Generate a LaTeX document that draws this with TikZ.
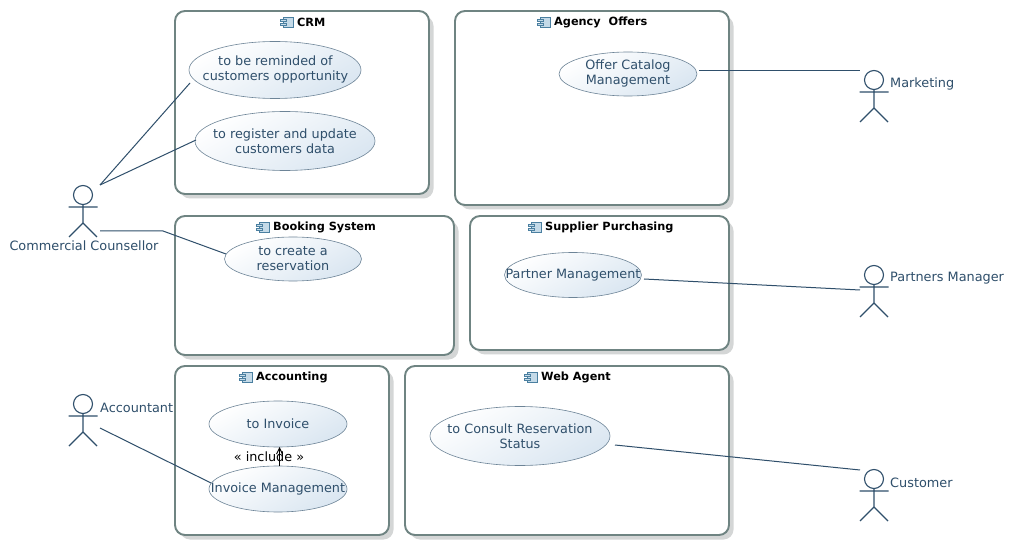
\documentclass[tikz,border=0pt]{standalone}
\usepackage{fontspec}
\setmainfont{DejaVu Sans}
\usetikzlibrary{shapes.geometric,arrows.meta,calc}
\definecolor{ink}{HTML}{2F4F6B}
\definecolor{frame}{HTML}{6F8482}
\definecolor{shade}{HTML}{D4D6D6}
\definecolor{usefill}{HTML}{DAE6F1}
\definecolor{iconfill}{HTML}{C4DAE8}
\definecolor{iconline}{HTML}{4A7FA0}
\newcommand{\compicon}[1]{%
  \fill[iconfill] ($(#1)+(-4,-5)$) rectangle ($(#1)+(6,5)$);
  \draw[iconline,line width=.7pt] ($(#1)+(-4,-5)$) rectangle ($(#1)+(6,5)$);
  \fill[iconfill] ($(#1)+(-7,-3)$) rectangle ($(#1)+(-1,-.5)$);
  \draw[iconline,line width=.6pt] ($(#1)+(-7,-3)$) rectangle ($(#1)+(-1,-.5)$);
  \fill[iconfill] ($(#1)+(-7,1)$) rectangle ($(#1)+(-1,3.5)$);
  \draw[iconline,line width=.6pt] ($(#1)+(-7,1)$) rectangle ($(#1)+(-1,3.5)$);
}
\newcommand{\actorfig}[2]{% #1 x, #2 head centre y
  \draw[actorline] (#1,#2) circle[radius=9.5];
  \draw[actorline] (#1,#2+9.5) -- (#1,#2+28) (#1-14.5,#2+12) -- (#1+14.5,#2+12)
    (#1-14,#2+42) -- (#1,#2+28) -- (#1+14,#2+42);
}
\tikzset{
  x=1pt,y=-1pt,
  actorline/.style={draw=ink,line width=1.1pt},
  link/.style={draw=ink,line width=1pt},
  usecase/.style={ellipse,draw=ink!70,line width=.6pt,inner sep=0pt,
    left color=white,right color=usefill,shading angle=30},
  usetext/.style={text=ink,font=\fontsize{12.8}{15}\selectfont,align=center,inner sep=0pt},
  boxshadow/.style={fill=shade,rounded corners=10pt},
  boxframe/.style={draw=frame,line width=1.9pt,fill=white,rounded corners=10pt},
  boxtitle/.style={font=\fontsize{11.3}{13}\bfseries\selectfont,text=black,inner sep=0pt,anchor=west},
  actorlabel/.style={text=ink,font=\fontsize{12.85}{15}\selectfont,inner sep=0pt},
}
\begin{document}
\begin{tikzpicture}
\useasboundingbox[fill=white] (0,0) rectangle (1013,548);
% boxes
\foreach \a/\b/\c/\d in {175/11/429/194,455/11/729/205,175/216/454/355,470/216/729/350,175/366/389/535,405/366/729/535}{
  \fill[boxshadow] (\a+5,\b+5) rectangle (\c+4.5,\d+4.5);
  \draw[boxframe] (\a,\b) rectangle (\c,\d);
}
% titles
\coordinate (icrm) at (287,22); \compicon{icrm}
\node[boxtitle] (tcrm) at (297,22.5) {CRM};
\coordinate (iag) at (544,22); \compicon{iag}
\node[boxtitle] (tag) at (554,22.5) {Agency\ \ Offers};
\coordinate (ibk) at (263,227); \compicon{ibk}
\node[boxtitle] (tbk) at (273,227.5) {Booking System};
\coordinate (isp) at (535,227); \compicon{isp}
\node[boxtitle] (tsp) at (545,227.5) {Supplier Purchasing};
\coordinate (iac) at (246,377); \compicon{iac}
\node[boxtitle] (tac) at (256,377.5) {Accounting};
\coordinate (iwa) at (531,377); \compicon{iwa}
\node[boxtitle] (twa) at (541,377.5) {Web Agent};
% use cases
\node[usecase,minimum width=172pt,minimum height=57pt] (remind) at (275,70) {};
\node[usetext] (remindT) at (275.5,69) {to be reminded of\\customers opportunity};
\node[usecase,minimum width=180pt,minimum height=59pt] (register) at (285,141) {};
\node[usetext] (registerT) at (285,141) {to register and update\\customers data};
\node[usecase,minimum width=138pt,minimum height=44pt] (offer) at (628,74) {};
\node[usetext] (offerT) at (628,73.5) {Offer Catalog\\Management};
\node[usecase,minimum width=137pt,minimum height=44pt] (create) at (293,259) {};
\node[usetext] (createT) at (293,258.5) {to create a\\reservation};
\node[usecase,minimum width=137pt,minimum height=45pt] (partner) at (573,275) {};
\node[usetext] (partnerT) at (573,275) {Partner Management};
\node[usecase,minimum width=138pt,minimum height=46pt] (invoice) at (278,424) {};
\node[usetext] (invoiceT) at (278,424) {to Invoice};
\node[usecase,minimum width=138pt,minimum height=46pt] (invmgmt) at (278,489) {};
\node[usetext] (invmgmtT) at (278,489) {Invoice Management};
\node[usecase,minimum width=180pt,minimum height=59pt] (consult) at (520,436) {};
\node[usetext] (consultT) at (520,436) {to Consult Reservation\\Status};
% actors
\actorfig{83}{195}
\actorfig{874}{80}
\actorfig{874}{275}
\actorfig{83}{404}
\actorfig{874}{479}
\node[actorlabel] (cc) at (84,246) {Commercial Counsellor};
\node[actorlabel,anchor=west] (mk) at (890,83.5) {Marketing};
\node[actorlabel,anchor=west] (pm) at (890,278.5) {Partners Manager};
\node[actorlabel,anchor=west] (acc) at (100,408) {Accountant};
\node[actorlabel,anchor=west] (cu) at (890,483) {Customer};
% connector ends
\coordinate (ccA) at (100,185);
\coordinate (ccB) at (100,231);
\coordinate (ccBend) at (163,231);
\coordinate (mkE) at (860,71);
\coordinate (pmE) at (860,290);
\coordinate (acE) at (100,428);
\coordinate (cuE) at (860,470);
\coordinate (remindE) at (190,83);
\coordinate (registerE) at (196,140);
\coordinate (createE) at (226,254);
\coordinate (offerE) at (699,71);
\coordinate (partnerE) at (644,279);
\coordinate (invmgmtE) at (211,483);
\coordinate (consultE) at (615,445);
\draw[link] (ccA) -- (remindE);
\draw[link] (ccA) -- (registerE);
\draw[link] (ccB) -- (ccBend) -- (createE);
\draw[link] (offerE) -- (mkE);
\draw[link] (partnerE) -- (pmE);
\draw[link] (acE) -- (invmgmtE);
\draw[link] (consultE) -- (cuE);
\coordinate (incA) at (279.5,466);
\coordinate (incB) at (279.5,447);
\draw[black,line width=1pt,-{Straight Barb[length=6pt,width=6pt]}] (incA) -- (incB);
\node[text=black,font=\fontsize{12.8}{15}\selectfont,inner sep=0pt] (incl) at (269,456.5) {« include »};
\end{tikzpicture}
\end{document}
